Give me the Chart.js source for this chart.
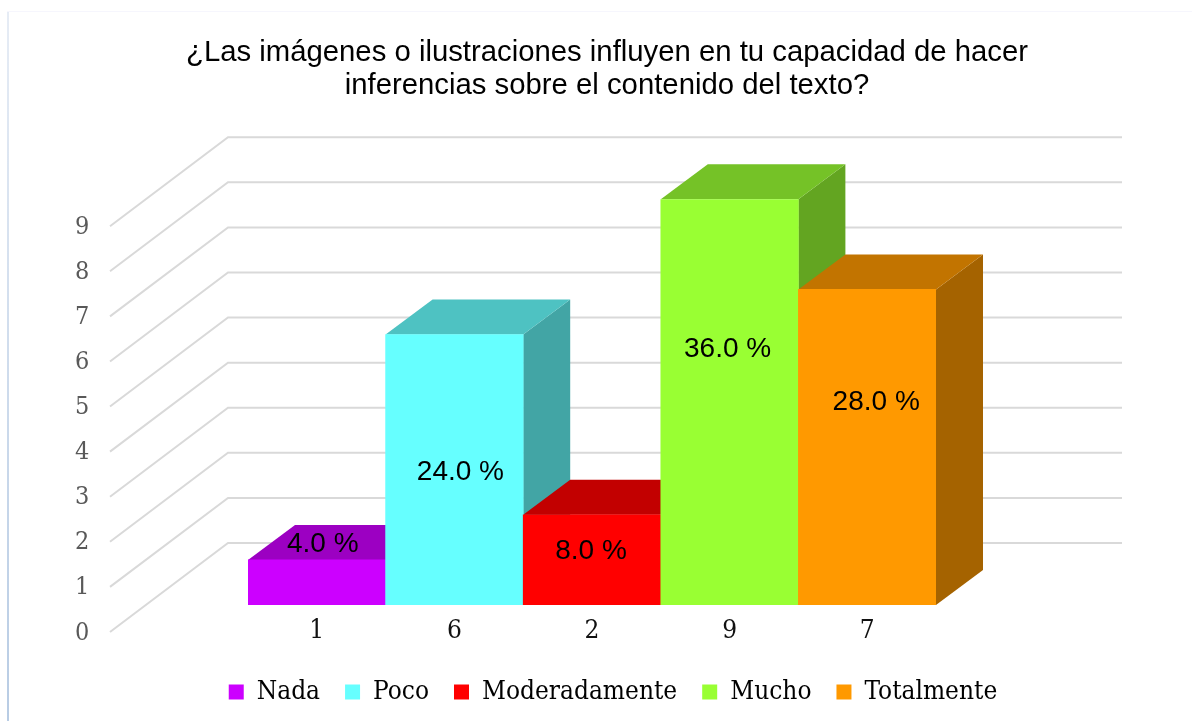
<!DOCTYPE html>
<html lang="es">
<head>
<meta charset="utf-8">
<title>Gráfico</title>
<style>html,body{margin:0;padding:0;background:#fff}canvas{display:block}</style>
<script src="https://cdn.jsdelivr.net/npm/chart.js@4"></script>
</head>
<body>
<canvas id="c" width="1192" height="721"></canvas>
<script>
const titleLines = ["¿Las imágenes o ilustraciones influyen en tu capacidad de hacer", "inferencias sobre el contenido del texto?"];
const categories = ["Nada", "Poco", "Moderadamente", "Mucho", "Totalmente"];
const counts = [1, 6, 2, 9, 7];
const percentLabels = ["4.0 %", "24.0 %", "8.0 %", "36.0 %", "28.0 %"];
const frontColors = ["#CC00FF", "#66FFFF", "#FF0000", "#99FF33", "#FF9900"];
const topColors = ["#9C00C2", "#4EC2C2", "#C20000", "#75C227", "#C27400"];
const sideColors = ["#8500A6", "#42A5A5", "#A60000", "#63A521", "#A56300"];
const labelNudges = [[6, -38], [6, 3], [-1, -9], [-2, -53], [9, -45]];

const depthX = 47, depthY = -35;
const serif = "'DejaVu Serif Condensed','Liberation Serif',serif";

const scene3d = {
  id: "scene3d",
  afterLayout(chart) {
    chart.titleBlock.left = 22;
    chart.titleBlock.right = 1192;
    chart.legend.left = 34;
    chart.legend.right = 1192;
    chart.legend.top = 654;
    chart.legend.bottom = 721;
  },
  beforeDraw(chart) {
    const ctx = chart.ctx;
    ctx.save();
    const g = ctx.createLinearGradient(0, 11, 0, 721);
    g.addColorStop(0, "#e6ecf5");
    g.addColorStop(1, "#b8cce4");
    ctx.fillStyle = g;
    ctx.fillRect(7, 11, 2, 710);
    ctx.fillStyle = "#f6f6fd";
    ctx.fillRect(7, 11, 1185, 1);
    ctx.restore();
  },
  beforeDatasetsDraw(chart) {
    const ctx = chart.ctx;
    const y = chart.scales.y;
    ctx.save();
    ctx.strokeStyle = "#d9d9d9";
    ctx.lineWidth = 2;
    y.ticks.forEach(t => {
      const p = y.getPixelForValue(t.value);
      ctx.beginPath();
      ctx.moveTo(110, p + 27);
      ctx.lineTo(228, p - 62);
      ctx.lineTo(1122, p - 62);
      ctx.stroke();
    });
    const bars = chart.getDatasetMeta(0).data;
    bars.forEach((b, i) => {
      const half = b.width / 2;
      const l = b.x - half, r = b.x + half, t = b.y, base = b.base;
      ctx.fillStyle = sideColors[i];
      ctx.beginPath();
      ctx.moveTo(r, t); ctx.lineTo(r + depthX, t + depthY);
      ctx.lineTo(r + depthX, base + depthY); ctx.lineTo(r, base);
      ctx.closePath(); ctx.fill();
      ctx.fillStyle = topColors[i];
      ctx.beginPath();
      ctx.moveTo(l, t); ctx.lineTo(l + depthX, t + depthY);
      ctx.lineTo(r + depthX, t + depthY); ctx.lineTo(r, t);
      ctx.closePath(); ctx.fill();
    });
    ctx.restore();
  },
  afterDatasetsDraw(chart) {
    const ctx = chart.ctx;
    const bars = chart.getDatasetMeta(0).data;
    ctx.save();
    ctx.font = "28px 'Liberation Sans',Arial,sans-serif";
    ctx.fillStyle = "#000";
    ctx.textAlign = "center";
    ctx.textBaseline = "middle";
    bars.forEach((b, i) => {
      const mid = (b.y + b.base) / 2;
      ctx.fillText(percentLabels[i], b.x + labelNudges[i][0], mid + labelNudges[i][1]);
    });
    ctx.restore();
  }
};

new Chart(document.getElementById("c"), {
  type: "bar",
  data: {
    labels: categories,
    datasets: [{
      data: counts,
      backgroundColor: frontColors,
      borderWidth: 0,
      barPercentage: 1,
      categoryPercentage: 1
    }]
  },
  plugins: [scene3d],
  options: {
    responsive: false,
    animation: false,
    layout: { padding: { left: 75, right: 256, top: 0, bottom: 0 } },
    scales: {
      x: {
        grid: { display: false },
        border: { display: false },
        afterFit(s) { s.height = 55; },
        ticks: {
          padding: 3,
          color: "#111",
          maxRotation: 0,
          autoSkip: false,
          font: { family: serif, size: 26 },
          callback: (v, i) => String(counts[i])
        }
      },
      y: {
        min: 0,
        max: 9,
        grid: { display: false, drawTicks: false },
        border: { display: false },
        afterFit(s) { s.width = 173; },
        ticks: {
          stepSize: 1,
          padding: 0,
          crossAlign: "far",
          labelOffset: 28,
          color: "#595959",
          font: { family: serif, size: 25 }
        }
      }
    },
    plugins: {
      tooltip: { enabled: false },
      title: {
        display: true,
        text: titleLines,
        color: "#000",
        font: { family: "'Liberation Sans',Arial,sans-serif", size: 29.3, weight: "normal", lineHeight: 1.13 },
        padding: { top: 36, bottom: 97 }
      },
      legend: {
        display: true,
        position: "bottom",
        onClick: null,
        labels: {
          boxWidth: 15,
          boxHeight: 15,
          padding: 25,
          color: "#000",
          font: { family: serif, size: 26 },
          generateLabels: () => categories.map((c, i) => ({
            text: c,
            fillStyle: frontColors[i],
            strokeStyle: frontColors[i],
            lineWidth: 0,
            index: i
          }))
        }
      }
    }
  }
});
</script>
</body>
</html>
